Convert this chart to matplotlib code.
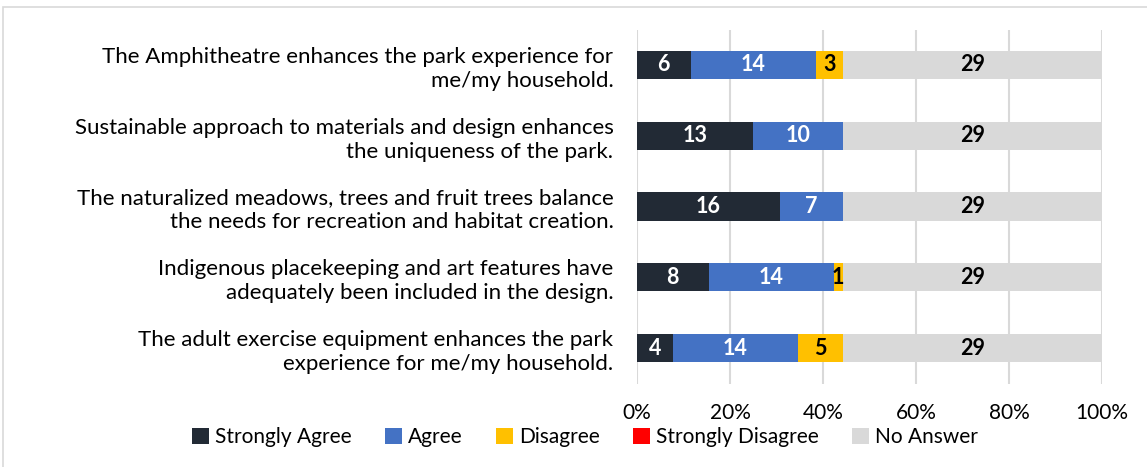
import matplotlib.pyplot as plt
import numpy as np
from matplotlib.patches import Rectangle

plt.rcParams['font.family'] = ['Lato', 'DejaVu Sans']

statements = [
    "The Amphitheatre enhances the park experience for\nme/my household.",
    "Sustainable approach to materials and design enhances\nthe uniqueness of the park.",
    "The naturalized meadows, trees and fruit trees balance\nthe needs for recreation and habitat creation.",
    "Indigenous placekeeping and art features have\nadequately been included in the design.",
    "The adult exercise equipment enhances the park\nexperience for me/my household.",
]
strongly_agree = [6, 13, 16, 8, 4]
agree = [14, 10, 7, 14, 14]
disagree = [3, 0, 0, 1, 5]
strongly_disagree = [0, 0, 0, 0, 0]
no_answer = [29, 29, 29, 29, 29]

series = [
    ("Strongly Agree", strongly_agree, "#222A35", "white"),
    ("Agree", agree, "#4472C4", "white"),
    ("Disagree", disagree, "#FFC000", "black"),
    ("Strongly Disagree", strongly_disagree, "#FF0000", "black"),
    ("No Answer", no_answer, "#D9D9D9", "black"),
]

counts = np.array([s[1] for s in series], dtype=float)
totals = counts.sum(axis=0)

fig = plt.figure(figsize=(11.47, 4.67), dpi=100)
fig.patches.append(Rectangle((3 / 1147, -0.1), 1.2, 1 - 7 / 467 + 0.1,
                             transform=fig.transFigure, fill=False,
                             edgecolor="#D9D9D9", linewidth=1.2))
ax = fig.add_axes([637 / 1147, 1 - 383.5 / 467, 465 / 1147, 354 / 467])

y = np.arange(len(statements))
left = np.zeros(len(statements))
for name, vals, color, txtcolor in series:
    share = np.array(vals) / totals
    ax.barh(y, share, left=left, height=0.4, color=color, label=name, zorder=3)
    for i, v in enumerate(vals):
        if v > 0:
            ax.text(left[i] + share[i] / 2, y[i], str(v), ha="center", va="center",
                    color=txtcolor, fontsize=15.5, fontweight="bold", zorder=4)
    left += share

ax.set_xlim(0, 1)
ax.set_ylim(len(statements) - 0.5, -0.5)
ax.set_xticks(np.linspace(0, 1, 6))
ax.set_xticklabels([f"{int(t * 100)}%" for t in np.linspace(0, 1, 6)], fontsize=15, color="black")
ax.set_yticks(y)
ax.set_yticklabels(statements, fontsize=16, color="black", linespacing=1.25)
ax.tick_params(axis="both", length=0)
ax.tick_params(axis="y", pad=17)
ax.tick_params(axis="x", pad=14)
ax.grid(axis="x", color="#D9D9D9", linewidth=1.5, zorder=0)
for s in ax.spines.values():
    s.set_visible(False)

fig.legend(loc="center", bbox_to_anchor=(0.51, 0.064), ncol=5, frameon=False,
           fontsize=15, handlelength=0.8, handleheight=0.8, handletextpad=0.3,
           columnspacing=1.6, labelcolor="black")

fig.savefig("out.png", dpi=100)
